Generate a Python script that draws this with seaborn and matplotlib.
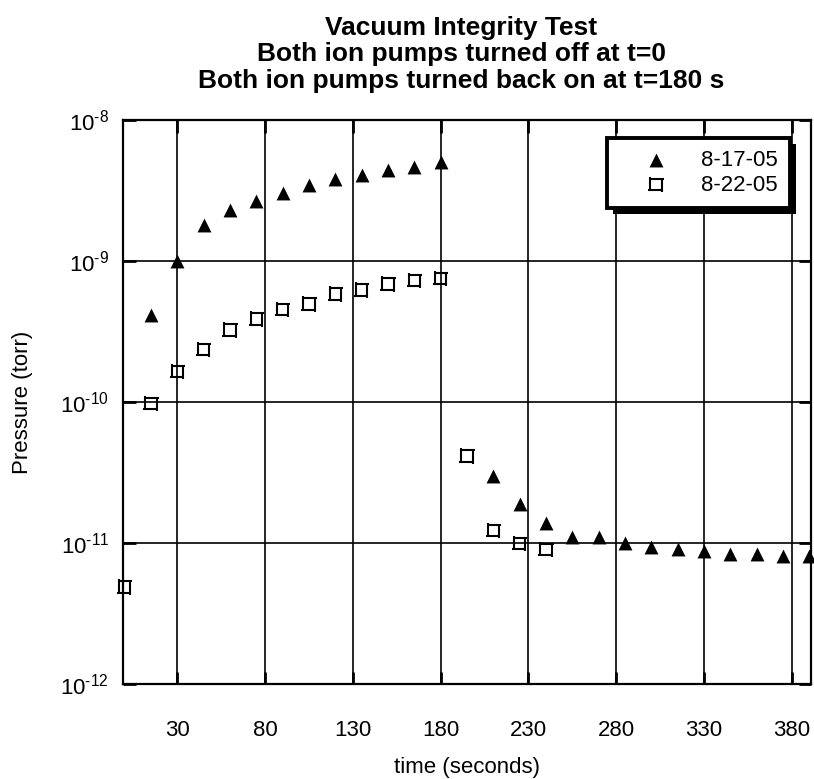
import numpy as np
import pandas as pd
import matplotlib
matplotlib.use("Agg")
import matplotlib.pyplot as plt
import seaborn as sns
from matplotlib.path import Path
from matplotlib.patches import Rectangle
from matplotlib.transforms import IdentityTransform

# ---- data ----
t_0817 = [15, 30, 45, 60, 75, 90, 105, 120, 135, 150, 165, 180,
          210, 225, 240, 255, 270, 285, 300, 315, 330, 345, 360, 375, 390]
p_0817 = [4.14e-10, 1.0e-9, 1.8e-9, 2.3e-9, 2.68e-9, 3.05e-9, 3.46e-9, 3.79e-9,
          4.07e-9, 4.41e-9, 4.67e-9, 5.0e-9,
          2.99e-11, 1.88e-11, 1.38e-11, 1.11e-11, 1.11e-11, 1.0e-11, 9.42e-12,
          9.06e-12, 8.81e-12, 8.35e-12, 8.35e-12, 8.13e-12, 8.13e-12]
t_0822 = [0, 15, 30, 45, 60, 75, 90, 105, 120, 135, 150, 165, 180,
          195, 210, 225, 240]
p_0822 = [4.88e-12, 9.8e-11, 1.64e-10, 2.37e-10, 3.24e-10, 3.88e-10, 4.54e-10,
          4.95e-10, 5.83e-10, 6.22e-10, 6.87e-10, 7.25e-10, 7.53e-10,
          4.14e-11, 1.22e-11, 9.95e-12, 9.0e-12]
labels = ["8-17-05", "8-22-05"]
x_ticks = [30, 80, 130, 180, 230, 280, 330, 380]
y_ticks = [1e-12, 1e-11, 1e-10, 1e-9, 1e-8]
title_lines = ["Vacuum Integrity Test",
               "Both ion pumps turned off at t=0",
               "Both ion pumps turned back on at t=180 s"]

df1 = pd.DataFrame({"t": t_0817, "p": p_0817})
df2 = pd.DataFrame({"t": t_0822, "p": p_0822})

sns.set_theme(style="white")
plt.rcParams["font.family"] = ["Liberation Sans", "DejaVu Sans"]
plt.rcParams["text.color"] = "black"
plt.rcParams["axes.labelcolor"] = "black"
plt.rcParams["mathtext.fontset"] = "custom"
plt.rcParams["mathtext.rm"] = "Liberation Sans"
plt.rcParams["mathtext.it"] = "Liberation Sans"
plt.rcParams["mathtext.default"] = "regular"

fig = plt.figure(figsize=(8.14, 7.79), dpi=100)
L, R, T, B = 123, 811, 120, 684
ax = fig.add_axes([L / 814, 1 - B / 779, (R - L) / 814, (B - T) / 779])

# pinwheel-like open square marker
sq = Path([(-1, -1), (-1, 1.35), (-1, 1), (1.35, 1), (1, 1), (1, -1.35), (1, -1), (-1.35, -1)],
          [Path.MOVETO, Path.LINETO, Path.MOVETO, Path.LINETO,
           Path.MOVETO, Path.LINETO, Path.MOVETO, Path.LINETO])

sns.scatterplot(data=df1, x="t", y="p", marker="^", color="black", s=100,
                linewidth=0, label=labels[0], ax=ax, zorder=3)
sns.scatterplot(data=df2, x="t", y="p", marker=sq, color="black", s=120,
                linewidth=1.5, label=labels[1], ax=ax, zorder=3)
c1, c2 = ax.collections[0], ax.collections[1]
c2.set_facecolor("none")
c2.set_edgecolor("black")
for c in (c1, c2):
    c.set_clip_on(False)

ax.set_yscale("log")
ax.set_xlim(-1, 391)
ax.set_ylim(1e-12, 1e-8)
ax.set_xticks(x_ticks)
ax.set_xticklabels([str(v) for v in x_ticks])
ax.set_yticks(y_ticks)
ax.set_yticklabels([r"$10^{\text{-}%d}$" % abs(int(np.log10(v))) for v in y_ticks])
ax.minorticks_off()
ax.yaxis.set_minor_locator(matplotlib.ticker.NullLocator())

ax.grid(True, color="black", linewidth=1.2)
for s in ax.spines.values():
    s.set_color("black")
    s.set_linewidth(1.6)
ax.tick_params(axis="x", direction="in", length=9, width=2, colors="black",
               labelsize=16, pad=26, top=True, bottom=True)
ax.tick_params(axis="y", direction="in", length=9, width=2, colors="black",
               labelsize=16, pad=10, left=True, right=True)

ax.set_xlabel("time (seconds)", fontsize=16, color="black", va="center")
ax.xaxis.set_label_coords(0.5, (B - 767) / (B - T))
ax.set_ylabel("Pressure (torr)", fontsize=16, color="black", va="center")
ax.yaxis.set_label_coords((22.5 - L) / (R - L), 0.5)

fig.text(461 / 814, 1 - 16 / 779, "\n".join(title_lines), ha="center", va="top",
         fontsize=19, fontweight="bold", color="black", linespacing=1.13,
         multialignment="center")

leg = ax.legend(loc="upper right", bbox_to_anchor=(790 / 814, 1 - 138 / 779),
                bbox_transform=fig.transFigure, borderaxespad=0,
                frameon=True, fancybox=False, edgecolor="black", framealpha=1,
                fontsize=16, handlelength=3.33, handletextpad=0.36,
                borderpad=0.55, labelspacing=0.15, markerscale=1.0,
                labelcolor="black")
leg.get_frame().set_linewidth(2.8)
leg.set_zorder(10)

fig.canvas.draw()
bb = leg.get_window_extent()
shadow = Rectangle((bb.x0 + 6, bb.y0 - 6), bb.width, bb.height,
                   transform=IdentityTransform(), facecolor="black",
                   edgecolor="none", zorder=9, clip_on=False)
ax.add_artist(shadow)

fig.savefig("out.png", dpi=100)
